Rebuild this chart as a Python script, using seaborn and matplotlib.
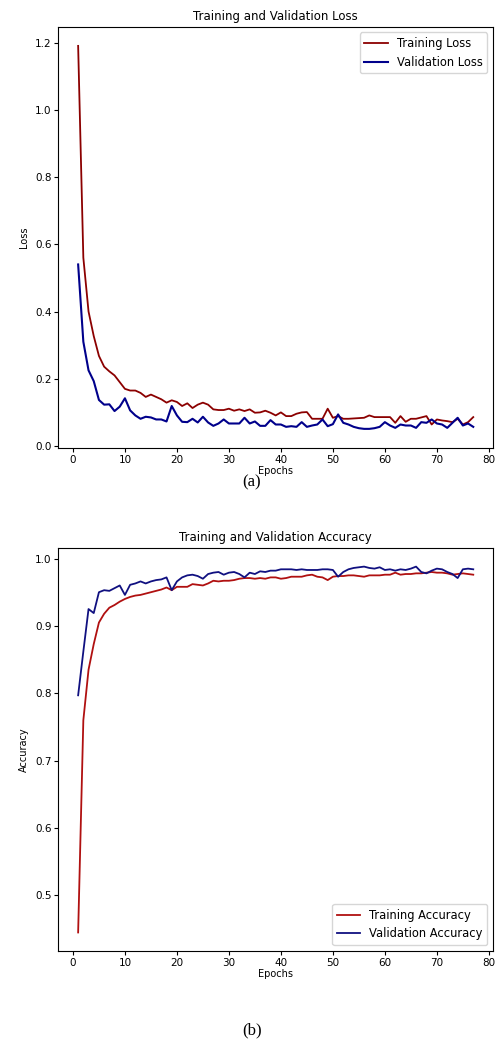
import numpy as np
import pandas as pd
import matplotlib
matplotlib.use('Agg')
import matplotlib.pyplot as plt
import seaborn as sns

# values (epochs 1..77)
epochs = list(range(1, 78))

train_loss = [1.19, 0.56, 0.40, 0.327, 0.268, 0.236, 0.222, 0.21, 0.19, 0.17,
              0.165, 0.165, 0.158, 0.146, 0.153, 0.146, 0.139, 0.129, 0.136, 0.131,
              0.119, 0.127, 0.113, 0.123, 0.129, 0.123, 0.109, 0.107, 0.107, 0.111,
              0.105, 0.109, 0.104, 0.109, 0.099, 0.100, 0.105, 0.099, 0.091, 0.100,
              0.089, 0.089, 0.096, 0.100, 0.101, 0.081, 0.081, 0.081, 0.111, 0.084,
              0.089, 0.081, 0.081, 0.082, 0.083, 0.084, 0.091, 0.086, 0.086, 0.086,
              0.086, 0.069, 0.089, 0.072, 0.081, 0.081, 0.085, 0.089, 0.064, 0.079,
              0.076, 0.074, 0.071, 0.081, 0.064, 0.071, 0.086]

val_loss = [0.54, 0.31, 0.225, 0.193, 0.137, 0.123, 0.124, 0.104, 0.117, 0.142,
            0.106, 0.091, 0.081, 0.087, 0.085, 0.079, 0.079, 0.073, 0.119, 0.091,
            0.072, 0.071, 0.081, 0.070, 0.087, 0.070, 0.060, 0.067, 0.079, 0.067,
            0.067, 0.067, 0.084, 0.067, 0.073, 0.060, 0.060, 0.077, 0.064, 0.064,
            0.057, 0.059, 0.057, 0.071, 0.057, 0.061, 0.064, 0.079, 0.059, 0.065,
            0.094, 0.069, 0.064, 0.057, 0.053, 0.051, 0.051, 0.053, 0.057, 0.071,
            0.061, 0.054, 0.064, 0.061, 0.061, 0.054, 0.071, 0.069, 0.079, 0.067,
            0.064, 0.054, 0.069, 0.084, 0.061, 0.067, 0.057]

train_acc = [0.445, 0.76, 0.835, 0.873, 0.905, 0.918, 0.927, 0.931, 0.936, 0.940,
             0.943, 0.945, 0.946, 0.948, 0.950, 0.952, 0.954, 0.957, 0.953, 0.958,
             0.958, 0.958, 0.962, 0.961, 0.960, 0.963, 0.967, 0.966, 0.967, 0.967,
             0.968, 0.970, 0.971, 0.971, 0.970, 0.971, 0.970, 0.972, 0.972, 0.970,
             0.971, 0.973, 0.973, 0.973, 0.975, 0.976, 0.973, 0.972, 0.968, 0.973,
             0.974, 0.974, 0.975, 0.975, 0.974, 0.973, 0.975, 0.975, 0.975, 0.976,
             0.976, 0.979, 0.976, 0.977, 0.977, 0.978, 0.978, 0.979, 0.980, 0.979,
             0.979, 0.978, 0.976, 0.977, 0.978, 0.977, 0.976]

val_acc = [0.797, 0.862, 0.925, 0.919, 0.950, 0.953, 0.952, 0.956, 0.960, 0.946,
           0.961, 0.963, 0.966, 0.963, 0.966, 0.968, 0.969, 0.972, 0.953, 0.966,
           0.972, 0.975, 0.976, 0.974, 0.970, 0.977, 0.979, 0.980, 0.976, 0.979,
           0.980, 0.977, 0.972, 0.979, 0.977, 0.981, 0.980, 0.982, 0.982, 0.984,
           0.984, 0.984, 0.983, 0.984, 0.983, 0.983, 0.983, 0.984, 0.984, 0.983,
           0.973, 0.980, 0.984, 0.986, 0.987, 0.988, 0.986, 0.985, 0.987, 0.983,
           0.984, 0.982, 0.984, 0.983, 0.985, 0.988, 0.980, 0.978, 0.982, 0.985,
           0.984, 0.980, 0.977, 0.971, 0.984, 0.985, 0.984]

df = pd.DataFrame({'Epochs': epochs,
                   'train_loss': train_loss, 'val_loss': val_loss,
                   'train_acc': train_acc, 'val_acc': val_acc})

fig = plt.figure(figsize=(4.99, 10.48), dpi=100)
ax1 = fig.add_axes([0.117, 0.5725, 0.871, 0.402])
ax2 = fig.add_axes([0.117, 0.0928, 0.871, 0.384])

# (a) loss
sns.lineplot(data=df, x='Epochs', y='train_loss', color='#8b0000', linewidth=1.3,
             label='Training Loss', ax=ax1)
sns.lineplot(data=df, x='Epochs', y='val_loss', color='#00008b', linewidth=1.5,
             label='Validation Loss', ax=ax1)
ax1.set_title('Training and Validation Loss', fontsize=8.5, pad=5)
ax1.set_ylabel('Loss', fontsize=7)
ax1.legend(loc='upper right', fontsize=8.3)

# (b) accuracy
sns.lineplot(data=df, x='Epochs', y='train_acc', color='#b01010', linewidth=1.3,
             label='Training Accuracy', ax=ax2)
sns.lineplot(data=df, x='Epochs', y='val_acc', color='#101080', linewidth=1.3,
             label='Validation Accuracy', ax=ax2)
ax2.set_title('Training and Validation Accuracy', fontsize=8.5, pad=5)
ax2.set_ylabel('Accuracy', fontsize=7)
ax2.legend(loc='lower right', fontsize=8.3)

for ax in (ax1, ax2):
    ax.set_xticks(range(0, 81, 10))
    ax.tick_params(labelsize=7.5, length=3, pad=2)
    ax.set_xlabel('Epochs', fontsize=7, labelpad=1)

fig.text(0.505, 0.540, '(a)', ha='center', va='center', fontsize=12, family='Liberation Serif')
fig.text(0.505, 0.017, '(b)', ha='center', va='center', fontsize=12, family='Liberation Serif')

fig.savefig('out.png', dpi=100)
